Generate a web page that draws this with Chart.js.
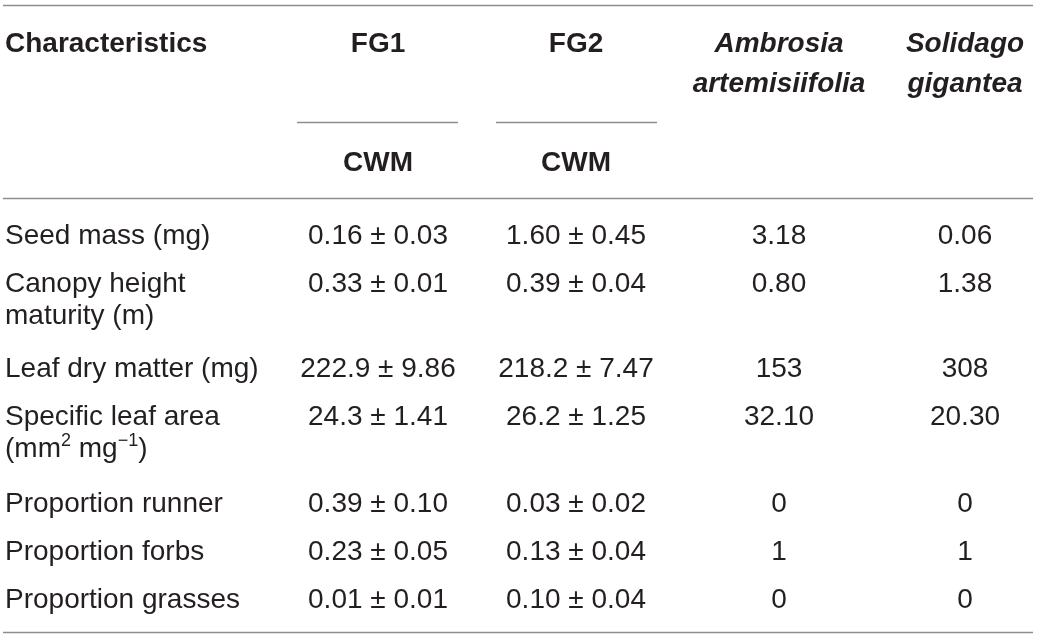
<!DOCTYPE html>
<html>
<head>
<meta charset="utf-8">
<script src="https://cdn.jsdelivr.net/npm/chart.js@4/dist/chart.umd.min.js"></script>
<style>
  html, body { margin: 0; padding: 0; background: #ffffff; }
  #wrap { width: 1039px; height: 638px; position: relative; }
</style>
</head>
<body>
<div id="wrap"><canvas id="c"></canvas></div>
<script>
// ---------- DATA ----------
const headers = ['Characteristics', 'FG1', 'FG2', 'Ambrosia\nartemisiifolia', 'Solidago\ngigantea'];
const subHeaders = ['', 'CWM', 'CWM', '', ''];
const characteristics = [
  'Seed mass (mg)',
  'Canopy height\nmaturity (m)',
  'Leaf dry matter (mg)',
  'Specific leaf area\n(mm{2} mg{−1})',
  'Proportion runner',
  'Proportion forbs',
  'Proportion grasses'
];
const fg1 = ['0.16 ± 0.03', '0.33 ± 0.01', '222.9 ± 9.86', '24.3 ± 1.41', '0.39 ± 0.10', '0.23 ± 0.05', '0.01 ± 0.01'];
const fg2 = ['1.60 ± 0.45', '0.39 ± 0.04', '218.2 ± 7.47', '26.2 ± 1.25', '0.03 ± 0.02', '0.13 ± 0.04', '0.10 ± 0.04'];
const ambrosia = ['3.18', '0.80', '153', '32.10', '0', '1', '0'];
const solidago = ['0.06', '1.38', '308', '20.30', '0', '1', '0'];

// ---------- LAYOUT (positions in the scale space) ----------
const W = 1039, H = 638;
const colX = [5, 378, 576, 779, 965];
const colAlign = ['left', 'center', 'center', 'center', 'center'];
const headerY = 42, subHeaderY = 161;
const rowY = [234, 282, 367, 415, 502, 550, 598];
const lineGap = 32;
const rules = [
  { x0: 3, x1: 1033, y: 5 },
  { x0: 297, x1: 458, y: 122 },
  { x0: 496, x1: 657, y: 122 },
  { x0: 3, x1: 1033, y: 198 },
  { x0: 3, x1: 1033, y: 632 }
];
const FONT = '"Liberation Sans", Arial, Helvetica, sans-serif';
const TEXT_COLOR = '#231f20';
const RULE_COLOR = '#8e8e8e';

const columns = [characteristics, fg1, fg2, ambrosia, solidago];

// one invisible point per cell; the plugin writes the text at the point's pixel position
const datasets = columns.map((col, c) => ({
  label: headers[c],
  data: col.map((txt, r) => ({ x: colX[c], y: rowY[r] })),
  pointRadius: 0,
  pointHoverRadius: 0,
  showLine: false
}));
const headerDataset = {
  label: 'headers',
  data: headers.map((h, c) => ({ x: colX[c], y: headerY })),
  pointRadius: 0, pointHoverRadius: 0, showLine: false
};
const subHeaderDataset = {
  label: 'subheaders',
  data: subHeaders.map((h, c) => ({ x: colX[c], y: subHeaderY })),
  pointRadius: 0, pointHoverRadius: 0, showLine: false
};

function drawRich(ctx, text, x, y, align, size, weight, style) {
  // supports {sup} segments
  const parts = [];
  const re = /\{([^}]*)\}/g;
  let last = 0, m;
  while ((m = re.exec(text)) !== null) {
    if (m.index > last) parts.push({ t: text.slice(last, m.index), sup: false });
    parts.push({ t: m[1], sup: true });
    last = re.lastIndex;
  }
  if (last < text.length) parts.push({ t: text.slice(last), sup: false });
  const fontFor = (sup) => `${style} ${weight} ${sup ? Math.round(size * 0.66) : size}px ${FONT}`;
  let total = 0;
  parts.forEach(p => { ctx.font = fontFor(p.sup); p.w = ctx.measureText(p.t).width; total += p.w; });
  let cx = align === 'left' ? x : (align === 'center' ? x - total / 2 : x - total);
  ctx.textAlign = 'left';
  ctx.textBaseline = 'alphabetic';
  const base = y + size * 0.36;
  parts.forEach(p => {
    ctx.font = fontFor(p.sup);
    ctx.fillText(p.t, cx, p.sup ? base - size * 0.38 : base);
    cx += p.w;
  });
}

const tablePlugin = {
  id: 'tableText',
  afterDatasetsDraw(chart) {
    const ctx = chart.ctx;
    const xs = chart.scales.x, ys = chart.scales.y;
    ctx.save();
    // rules
    ctx.strokeStyle = RULE_COLOR;
    ctx.lineWidth = 1.6;
    rules.forEach(rl => {
      const py = Math.round(ys.getPixelForValue(rl.y)) + 0.5;
      ctx.beginPath();
      ctx.moveTo(xs.getPixelForValue(rl.x0), py);
      ctx.lineTo(xs.getPixelForValue(rl.x1), py);
      ctx.stroke();
    });
    ctx.fillStyle = TEXT_COLOR;
    const size = 28;
    // body cells
    columns.forEach((col, c) => {
      const meta = chart.getDatasetMeta(c);
      col.forEach((txt, r) => {
        const el = meta.data[r];
        txt.split('\n').forEach((line, li) => {
          drawRich(ctx, line, el.x, el.y + li * lineGap * (ys.height / H), colAlign[c], size, 'normal', 'normal');
        });
      });
    });
    // headers
    const hMeta = chart.getDatasetMeta(columns.length);
    headers.forEach((h, c) => {
      const el = hMeta.data[c];
      const italic = c >= 3 ? 'italic' : 'normal';
      h.split('\n').forEach((line, li) => {
        drawRich(ctx, line, el.x, el.y + li * 40 * (ys.height / H), colAlign[c], size, 'bold', italic);
      });
    });
    const sMeta = chart.getDatasetMeta(columns.length + 1);
    subHeaders.forEach((h, c) => {
      if (!h) return;
      const el = sMeta.data[c];
      drawRich(ctx, h, el.x, el.y, colAlign[c], size, 'bold', 'normal');
    });
    ctx.restore();
  }
};

new Chart(document.getElementById('c'), {
  type: 'scatter',
  data: { datasets: [...datasets, headerDataset, subHeaderDataset] },
  options: {
    responsive: true,
    maintainAspectRatio: false,
    animation: false,
    layout: { padding: 0 },
    plugins: { legend: { display: false }, tooltip: { enabled: false } },
    events: [],
    scales: {
      x: { type: 'linear', min: 0, max: W, display: false },
      y: { type: 'linear', min: 0, max: H, reverse: true, display: false }
    }
  },
  plugins: [tablePlugin]
});
</script>
</body>
</html>
